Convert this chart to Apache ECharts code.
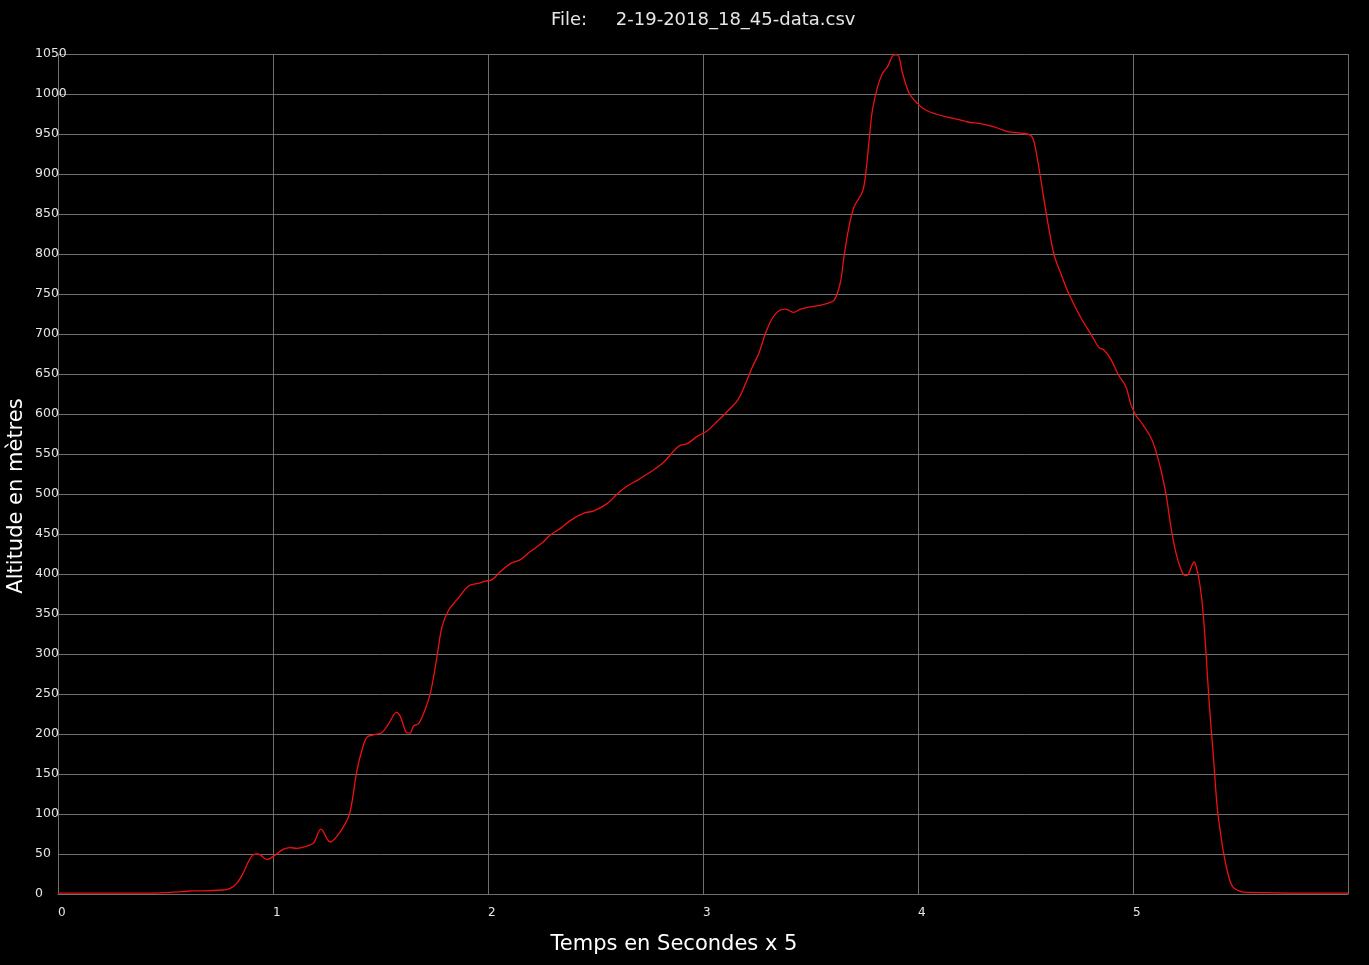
<!DOCTYPE html>
<html>
<head>
<meta charset="utf-8">
<title>2-19-2018_18_45-data.csv</title>
<script src="https://cdn.jsdelivr.net/npm/echarts@6/dist/echarts.min.js"></script>
<style>
  html, body { margin: 0; padding: 0; background: #000; }
  #chart { width: 1369px; height: 965px; }
</style>
</head>
<body>
<div id="chart"></div>
<script>
// temps (secondes x 5)
var timeX = [
  0, 0.2, 0.4, 0.521, 0.577, 0.628, 0.675, 0.768, 0.801, 0.833, 0.861, 0.885, 0.908, 0.931, 0.972,
  1.001, 1.049, 1.08, 1.111, 1.158, 1.189, 1.223, 1.266, 1.297, 1.336, 1.359, 1.391, 1.414, 1.437, 1.468,
  1.507, 1.538, 1.574, 1.592, 1.62, 1.636, 1.654, 1.677, 1.701, 1.732, 1.763, 1.786, 1.817, 1.856, 1.91,
  1.949, 1.988, 2.019, 2.058, 2.104, 2.151, 2.197, 2.252, 2.291, 2.337, 2.384, 2.446, 2.492, 2.554, 2.601,
  2.648, 2.694, 2.764, 2.818, 2.888, 2.927, 2.973, 3.02, 3.067, 3.105, 3.16, 3.198, 3.23, 3.26, 3.291,
  3.323, 3.353, 3.385, 3.42, 3.454, 3.501, 3.547, 3.586, 3.609, 3.625, 3.641, 3.656, 3.679, 3.703, 3.742,
  3.757, 3.773, 3.788, 3.812, 3.835, 3.858, 3.889, 3.905, 3.928, 3.959, 3.998, 4.036, 4.083, 4.137, 4.191,
  4.231, 4.292, 4.354, 4.417, 4.479, 4.52, 4.535, 4.548, 4.567, 4.597, 4.632, 4.665, 4.702, 4.758, 4.804,
  4.842, 4.865, 4.898, 4.93, 4.967, 4.99, 5.014, 5.037, 5.084, 5.107, 5.13, 5.154, 5.177, 5.2, 5.223,
  5.242, 5.256, 5.27, 5.284, 5.298, 5.312, 5.326, 5.34, 5.354, 5.373, 5.391, 5.405, 5.419, 5.441, 5.464,
  5.503, 5.536, 5.782, 6
]
// altitude en mètres
var altitude = [
  1, 1, 1, 2, 3, 4, 4, 5, 7, 14, 26, 40, 49, 50, 43,
  47, 56, 58, 57, 60, 64, 81, 65, 72, 88, 103, 155, 180, 196, 199,
  202, 213, 227, 222, 202, 201, 210, 213, 226, 251, 297, 334, 355, 368, 385,
  388, 391, 393, 403, 413, 418, 428, 439, 449, 457, 467, 476, 479, 488, 500,
  510, 517, 529, 540, 560, 563, 572, 579, 591, 601, 617, 638, 659, 676, 701,
  720, 729, 731, 727, 731, 734, 736, 739, 742, 751, 767, 797, 834, 859, 878,
  901, 943, 980, 1009, 1026, 1034, 1049, 1049, 1026, 1001, 988, 980, 975, 971, 968,
  965, 963, 959, 953, 951, 949, 944, 930, 900, 850, 800, 775, 750, 720, 700,
  683, 680, 668, 650, 634, 612, 598, 590, 570, 553, 530, 499, 458, 426, 406,
  398, 399, 408, 415, 405, 385, 352, 300, 240, 175, 110, 80, 55, 26, 9,
  3, 2, 1, 1
]
var xTicks = [0, 1, 2, 3, 4, 5]

var fontName = 'DejaVu Sans'
var gridColor = '#707070'
var labelColor = '#e6e6e6'

var chart = echarts.init(document.getElementById('chart'))

chart.setOption({
  backgroundColor: '#000',
  animation: false,
  title: {
    text: 'File:     2-19-2018_18_45-data.csv',
    left: 546,
    top: 6,
    textStyle: {
      color: labelColor,
      fontFamily: fontName,
      fontSize: 18,
      fontWeight: 'normal'
    }
  },
  grid: {
    left: 58,
    right: 21,
    top: 54,
    bottom: 71
  },
  xAxis: {
    type: 'value',
    min: 0,
    max: 6,
    interval: 1,
    axisLine: { show: true, onZero: false, lineStyle: { color: gridColor } },
    axisTick: { show: false },
    splitLine: { show: true, lineStyle: { color: gridColor, width: 1 } },
    axisLabel: {
      color: labelColor,
      fontFamily: fontName,
      fontSize: 12,
      align: 'left',
      margin: 13,
      showMaxLabel: false,
      formatter: function (v) {
        return xTicks.indexOf(v) >= 0 ? String(v) : ''
      }
    }
  },
  yAxis: {
    type: 'value',
    min: 0,
    max: 1050,
    interval: 50,
    axisLine: { show: true, lineStyle: { color: gridColor } },
    axisTick: { show: false },
    splitLine: { show: true, lineStyle: { color: gridColor, width: 1 } },
    axisLabel: {
      color: labelColor,
      fontFamily: fontName,
      fontSize: 12.5,
      align: 'left',
      margin: 23,
      verticalAlign: 'middle',
      padding: [0, 0, 8, 0],
      formatter: function (v) { return String(v) }
    }
  },
  graphic: [
    {
      type: 'text',
      x: 17,
      y: 496,
      rotation: Math.PI / 2,
      style: {
        text: 'Altitude en mètres',
        fill: '#fff',
        font: '21px "DejaVu Sans"',
        textAlign: 'center',
        textVerticalAlign: 'middle'
      }
    },
    {
      type: 'text',
      x: 674,
      y: 945,
      style: {
        text: 'Temps en Secondes x 5',
        fill: '#fff',
        font: '21px "DejaVu Sans"',
        textAlign: 'center',
        textVerticalAlign: 'middle'
      }
    }
  ],
  series: [
    {
      name: 'altitude',
      type: 'line',
      showSymbol: false,
      smooth: 0.35,
      clip: true,
      lineStyle: { color: '#f01010', width: 1.3 },
      data: timeX.map(function (t, i) { return [t, altitude[i]] })
    }
  ]
})
</script>
</body>
</html>
